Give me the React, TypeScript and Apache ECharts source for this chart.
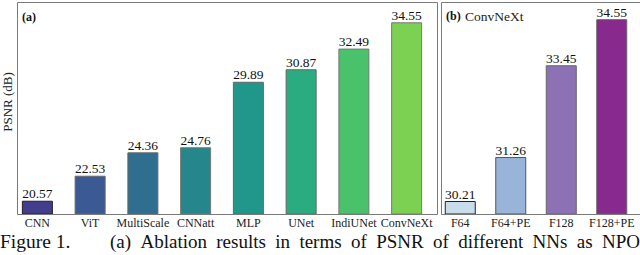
import React, { useEffect, useRef } from "react";
import * as echarts from "echarts";

const leftCategories = ["CNN", "ViT", "MultiScale", "CNNatt", "MLP", "UNet", "IndiUNet", "ConvNeXt"];
const leftValues = [20.57, 22.53, 24.36, 24.76, 29.89, 30.87, 32.49, 34.55];
const leftColors = ["#433e8c", "#3b5a93", "#2f6e8e", "#25878c", "#20978a", "#2bab80", "#4ac26c", "#7dd152"];
const leftBorders = ["#222222", "#666666", "#666666", "#777777", "#666666", "#666666", "#777777", "#777777"];

const rightCategories = ["F64", "F64+PE", "F128", "F128+PE"];
const rightValues = [30.21, 31.26, 33.45, 34.55];
const rightColors = ["#c8dcec", "#98b4d8", "#8c72b5", "#87298d"];
const rightBorders = ["#222222", "#555555", "#666666", "#666666"];

const captionLabel = "Figure 1.";
const captionText = "(a) Ablation results in terms of PSNR of different NNs as NPO";

const SERIF = "Liberation Serif";

function justifiedWords(text: string, fontSize: number, x0: number, x1: number, y: number) {
  const ctx = document.createElement("canvas").getContext("2d")!;
  ctx.font = `${fontSize}px "${SERIF}"`;
  const words = text.split(" ");
  const widths = words.map((w) => ctx.measureText(w).width);
  const total = widths.reduce((a, b) => a + b, 0);
  const gap = (x1 - x0 - total) / (words.length - 1);
  let x = x0;
  return words.map((w, i) => {
    const el = { type: "text", x, y, style: { text: w, fontFamily: SERIF, fontSize, fill: "#111" } };
    x += widths[i] + gap;
    return el;
  });
}

export default function App() {
  const ref = useRef<HTMLDivElement>(null);
  useEffect(() => {
    if (!ref.current) return;
    const chart = echarts.init(ref.current, undefined, { renderer: "svg" });
    const labelStyle = {
      show: true,
      position: "top",
      distance: 0,
      fontFamily: SERIF,
      fontSize: 13.5,
      color: "#111",
    };
    const axisLabel = { fontFamily: SERIF, fontSize: 12, color: "#222", margin: 3, interval: 0 };
    chart.setOption({
      animation: false,
      grid: [
        { left: 11, top: 2, width: 422, height: 212 },
        { left: 435, top: 2, width: 202, height: 212 },
      ],
      xAxis: [
        {
          type: "category", gridIndex: 0, data: leftCategories,
          axisLine: { show: false }, axisTick: { show: false }, axisLabel,
        },
        {
          type: "category", gridIndex: 1, data: rightCategories,
          axisLine: { show: false }, axisTick: { show: false }, axisLabel,
        },
      ],
      yAxis: [
        {
          type: "value", gridIndex: 0, min: 19.53, max: 36.14,
          axisLine: { show: false }, axisTick: { show: false }, axisLabel: { show: false }, splitLine: { show: false },
        },
        {
          type: "value", gridIndex: 1, min: 29.9, max: 34.96,
          axisLine: { show: false }, axisTick: { show: false }, axisLabel: { show: false }, splitLine: { show: false },
        },
      ],
      series: [
        {
          type: "bar", xAxisIndex: 0, yAxisIndex: 0, barWidth: 31,
          data: leftValues.map((v, i) => ({
            value: v,
            itemStyle: { color: leftColors[i], borderColor: leftBorders[i], borderWidth: 1 },
          })),
          label: labelStyle,
        },
        {
          type: "bar", xAxisIndex: 1, yAxisIndex: 1, barWidth: 31,
          data: rightValues.map((v, i) => ({
            value: v,
            itemStyle: { color: rightColors[i], borderColor: rightBorders[i], borderWidth: 1 },
          })),
          label: labelStyle,
        },
      ],
      graphic: [
        { type: "rect", shape: { x: 17.5, y: 2.5, width: 420, height: 212 }, style: { fill: "none", stroke: "#7a7a7a", lineWidth: 1 }, z: 10 },
        { type: "rect", shape: { x: 441.5, y: 2.5, width: 205, height: 212 }, style: { fill: "none", stroke: "#7a7a7a", lineWidth: 1 }, z: 10 },
        {
          type: "text", x: 7, y: 102, rotation: Math.PI / 2,
          style: { text: "PSNR (dB)", fontFamily: SERIF, fontSize: 13, fill: "#222", align: "center", verticalAlign: "middle" },
        },
        { type: "text", x: 22, y: 11, style: { text: "(a)", fontFamily: SERIF, fontWeight: "bold", fontSize: 12, fill: "#111" } },
        { type: "text", x: 446, y: 10, style: { text: "(b)", fontFamily: SERIF, fontWeight: "bold", fontSize: 12, fill: "#111" } },
        { type: "text", x: 465, y: 9.5, style: { text: "ConvNeXt", fontFamily: SERIF, fontSize: 13.5, fill: "#222" } },
        { type: "text", x: 0, y: 231, style: { text: captionLabel, fontFamily: SERIF, fontSize: 19.5, fill: "#111" } },
        ...justifiedWords(captionText, 19, 110, 640, 231.5),
      ],
    });
    return () => chart.dispose();
  }, []);
  return (
    <div
      ref={ref}
      style={{ position: "fixed", left: 0, top: 0, width: 640, height: 255, background: "#fff" }}
    />
  );
}
